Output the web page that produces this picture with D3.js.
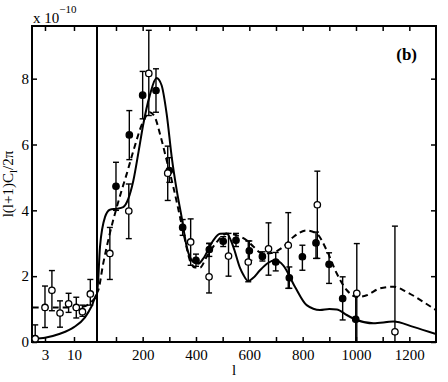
<!DOCTYPE html>
<html>
<head>
<meta charset="utf-8">
<script src="https://cdn.jsdelivr.net/npm/d3@7"></script>
<style>
  html, body { margin: 0; padding: 0; background: #fff; }
</style>
</head>
<body>
<div id="chart"></div>
<script>
'use strict';

// ##################################################
// #  Data                                          #
// ##################################################

// low multipoles (log axis), open circles
const cobeL  = [2, 3, 4, 5.6, 8, 11, 14.2, 19.7];
const cobeV  = [0.1, 1.05, 1.57, 0.88, 1.16, 1.05, 0.92, 1.46];
const cobeLo = [0, 0.44, 0.95, 0.45, 0.9, 0.73, 0.78, 1.12];
const cobeHi = [0.52, 1.7, 2.17, 1.25, 1.48, 1.36, 1.12, 1.9];

// high multipoles, open circles
const openL  = [77, 148, 223, 294, 380, 449, 522, 596, 672, 746, 855, 1003, 1146];
const openV  = [2.69, 3.98, 8.16, 5.13, 3.04, 1.98, 2.61, 2.43, 2.83, 2.94, 4.17, 1.48, 0.31];
const openLo = [1.9, 3.14, 6.88, 4.3, 2.33, 1.49, 2.0, 1.83, 2.03, 1.63, 2.54, 0, 0];
const openHi = [3.48, 4.8, 9.47, 5.95, 3.74, 2.99, 3.3, 3.07, 3.62, 3.93, 5.19, 2.99, 3.52];

// high multipoles, filled circles
const filledL  = [100, 150, 200, 250, 300, 350, 400, 450, 502, 550, 600, 649, 699, 750, 799, 850, 899, 950, 999];
const filledV  = [4.73, 6.29, 7.5, 7.64, 5.21, 3.48, 2.48, 2.81, 3.06, 3.09, 2.77, 2.6, 2.43, 1.95, 2.59, 3.01, 2.36, 1.32, 0.69];
const filledLo = [4.0, 5.54, 6.78, 6.98, 4.85, 3.24, 2.3, 2.6, 2.9, 2.9, 2.48, 2.46, 2.16, 1.63, 2.18, 2.54, 1.78, 0.67, 0];
const filledHi = [5.46, 7.03, 8.22, 8.3, 5.6, 3.72, 2.67, 3.0, 3.2, 3.3, 3.07, 2.74, 2.72, 2.28, 2.94, 3.34, 2.71, 1.98, 1.4];

// model curves
const solidL = [1.8, 2, 3, 5.6, 10, 15.8, 21, 26,
                29, 40, 59, 77, 103, 127, 146, 165, 185, 202, 227, 252, 271, 290, 309, 328, 346, 365,
                390, 409, 427, 465, 490, 515, 540, 565, 577, 596, 615, 640, 670, 696, 727, 771, 815,
                865, 900, 928, 965, 1003, 1065, 1140, 1215, 1300];
const solidV = [0.07, 0.09, 0.13, 0.25, 0.45, 0.75, 1.1, 1.45,
                1.45, 2.89, 3.8, 4.02, 4.05, 4.1, 4.35, 4.9, 5.8, 6.6, 7.5, 8.02, 7.8, 6.93, 5.62, 4.6, 3.8, 2.9,
                2.43, 2.38, 2.53, 3.09, 3.29, 3.3, 2.89, 2.25, 2.05, 1.85, 1.95, 2.18, 2.4, 2.48, 2.33, 1.68, 1.12,
                0.97, 1.0, 0.99, 0.82, 0.67, 0.57, 0.62, 0.46, 0.24];

const dashedL = [1.8, 5, 10, 15, 20, 26,
                 29, 34, 52, 77, 103, 121, 140, 165, 202, 227, 246, 265, 290, 315, 340, 359, 377, 396,
                 415, 440, 478, 515, 553, 590, 615, 647, 677, 727, 765, 815, 853, 890, 928, 965, 1003,
                 1040, 1090, 1140, 1190, 1252, 1300];
const dashedV = [1.05, 1.05, 1.05, 1.08, 1.2, 1.45,
                 1.48, 1.58, 2.38, 3.3, 4.1, 4.6, 5.1, 5.8, 6.7, 6.98, 6.83, 6.32, 5.52, 4.71, 3.8, 3.09, 2.48, 2.26,
                 2.26, 2.59, 3.04, 3.29, 3.24, 3.09, 2.9, 2.7, 2.7, 2.89, 3.19, 3.39, 3.29, 2.79, 2.08, 1.58, 1.37,
                 1.42, 1.63, 1.68, 1.52, 1.22, 0.97];

const yTicks = [0, 2, 4, 6, 8];
const lowTicks = [3, 10];
const highTicks = [100, 200, 300, 400, 500, 600, 700, 800, 900, 1000, 1100, 1200];
const highTickLabels = [200, 400, 600, 800, 1000, 1200];

// ##################################################
// #  Layout                                        #
// ##################################################

let width = 448;
let height = 382;
let plotLeft = 32, plotRight = 436, plotTop = 26, plotBottom = 342, split = 97;
let lowMax = 26;
let serif = '"Liberation Serif", "Times New Roman", Times, serif';

let xLow = d3.scaleLog([1.75, lowMax], [plotLeft, split]);
let xHigh = d3.scaleLinear([28.8, 1300], [split, plotRight]);
let y = d3.scaleLinear([0, 9.6], [plotBottom, plotTop]);

let xPos = l => l <= lowMax ? xLow(l) : xHigh(l);

let svg = d3.select('#chart').append('svg')
    .attr('width', width)
    .attr('height', height)
    .attr('font-family', serif);

// ##################################################
// #  Axes                                          #
// ##################################################

function styleAxis(g) {
    g.attr('font-family', serif).attr('font-size', 15);
    g.select('.domain').remove();
    g.selectAll('line').attr('stroke', '#000').attr('stroke-width', 1.5);
    g.selectAll('text').attr('fill', '#000');
}

svg.append('g').attr('transform', `translate(0,${plotBottom})`)
    .call(d3.axisBottom(xLow).tickValues(lowTicks).tickFormat(d3.format('d')).tickSize(-5).tickPadding(7))
    .call(styleAxis);
svg.append('g').attr('transform', `translate(0,${plotTop})`)
    .call(d3.axisTop(xLow).tickValues(lowTicks).tickFormat('').tickSize(-5))
    .call(styleAxis);

svg.append('g').attr('transform', `translate(0,${plotBottom})`)
    .call(d3.axisBottom(xHigh).tickValues(highTicks)
        .tickFormat(d => highTickLabels.includes(d) ? d : '').tickSize(-5).tickPadding(7))
    .call(styleAxis);
svg.append('g').attr('transform', `translate(0,${plotTop})`)
    .call(d3.axisTop(xHigh).tickValues(highTicks).tickFormat('').tickSize(-5))
    .call(styleAxis);

svg.append('g').attr('transform', `translate(${plotLeft},0)`)
    .call(d3.axisLeft(y).tickValues(yTicks).tickSize(-5).tickPadding(3))
    .call(styleAxis);
svg.append('g').attr('transform', `translate(${plotRight},0)`)
    .call(d3.axisRight(y).tickValues(yTicks).tickFormat('').tickSize(-5))
    .call(styleAxis);

// frame and split line
svg.append('rect')
    .attr('x', plotLeft).attr('y', plotTop)
    .attr('width', plotRight - plotLeft).attr('height', plotBottom - plotTop)
    .attr('fill', 'none').attr('stroke', '#000').attr('stroke-width', 2);
svg.append('line')
    .attr('x1', split).attr('x2', split).attr('y1', plotTop).attr('y2', plotBottom)
    .attr('stroke', '#000').attr('stroke-width', 2);

// ##################################################
// #  Curves                                        #
// ##################################################

svg.append('clipPath').attr('id', 'plot')
    .append('rect').attr('x', plotLeft).attr('y', plotTop)
    .attr('width', plotRight - plotLeft).attr('height', plotBottom - plotTop);

let line = d3.line()
    .x(d => xPos(d[0]))
    .y(d => y(d[1]))
    .curve(d3.curveMonotoneX);

let plot = svg.append('g').attr('clip-path', 'url(#plot)');

plot.append('path')
    .datum(d3.zip(dashedL, dashedV))
    .attr('d', line)
    .attr('fill', 'none').attr('stroke', '#000').attr('stroke-width', 2)
    .attr('stroke-dasharray', '6,4');

plot.append('path')
    .datum(d3.zip(solidL, solidV))
    .attr('d', line)
    .attr('fill', 'none').attr('stroke', '#000').attr('stroke-width', 2);

// ##################################################
// #  Points                                        #
// ##################################################

function drawPoints(ls, vs, los, his, filled) {
    let pts = d3.zip(ls, vs, los, his);
    let g = plot.append('g');
    let bars = g.selectAll('.bar').data(pts).enter().append('g').attr('class', 'bar')
        .attr('stroke', '#000').attr('stroke-width', 1.4);
    bars.append('line')
        .attr('x1', d => xPos(d[0])).attr('x2', d => xPos(d[0]))
        .attr('y1', d => y(d[2])).attr('y2', d => y(d[3]));
    bars.append('line')
        .attr('x1', d => xPos(d[0]) - 3).attr('x2', d => xPos(d[0]) + 3)
        .attr('y1', d => y(d[2])).attr('y2', d => y(d[2]));
    bars.append('line')
        .attr('x1', d => xPos(d[0]) - 3).attr('x2', d => xPos(d[0]) + 3)
        .attr('y1', d => y(d[3])).attr('y2', d => y(d[3]));
    g.selectAll('circle').data(pts).enter().append('circle')
        .attr('cx', d => xPos(d[0]))
        .attr('cy', d => y(d[1]))
        .attr('r', 3.2)
        .attr('fill', filled ? '#000' : '#fff')
        .attr('stroke', '#000').attr('stroke-width', 1.3);
}

drawPoints(cobeL, cobeV, cobeLo, cobeHi, false);
drawPoints(filledL, filledV, filledLo, filledHi, true);
drawPoints(openL, openV, openLo, openHi, false);

// ##################################################
// #  Labels                                        #
// ##################################################

let mult = svg.append('text').attr('x', plotLeft + 1).attr('y', 23).attr('font-size', 15);
mult.append('tspan').text('x 10');
mult.append('tspan').attr('dy', -10).attr('font-size', 11).text('\u221210');

svg.append('text')
    .attr('x', 417).attr('y', 60)
    .attr('text-anchor', 'end')
    .attr('font-size', 17).attr('font-weight', 'bold')
    .text('(b)');

svg.append('text')
    .attr('x', (plotLeft + plotRight) / 2).attr('y', 375)
    .attr('text-anchor', 'middle')
    .attr('font-size', 15)
    .text('l');

let ylab = svg.append('text')
    .attr('transform', `translate(13,${(plotTop + plotBottom) / 2}) rotate(-90)`)
    .attr('text-anchor', 'middle')
    .attr('font-size', 15);
ylab.append('tspan').text('l(l+1)C');
ylab.append('tspan').attr('dy', 4).attr('font-size', 11).text('l');
ylab.append('tspan').attr('dy', -4).text('/2\u03c0');
</script>
</body>
</html>
